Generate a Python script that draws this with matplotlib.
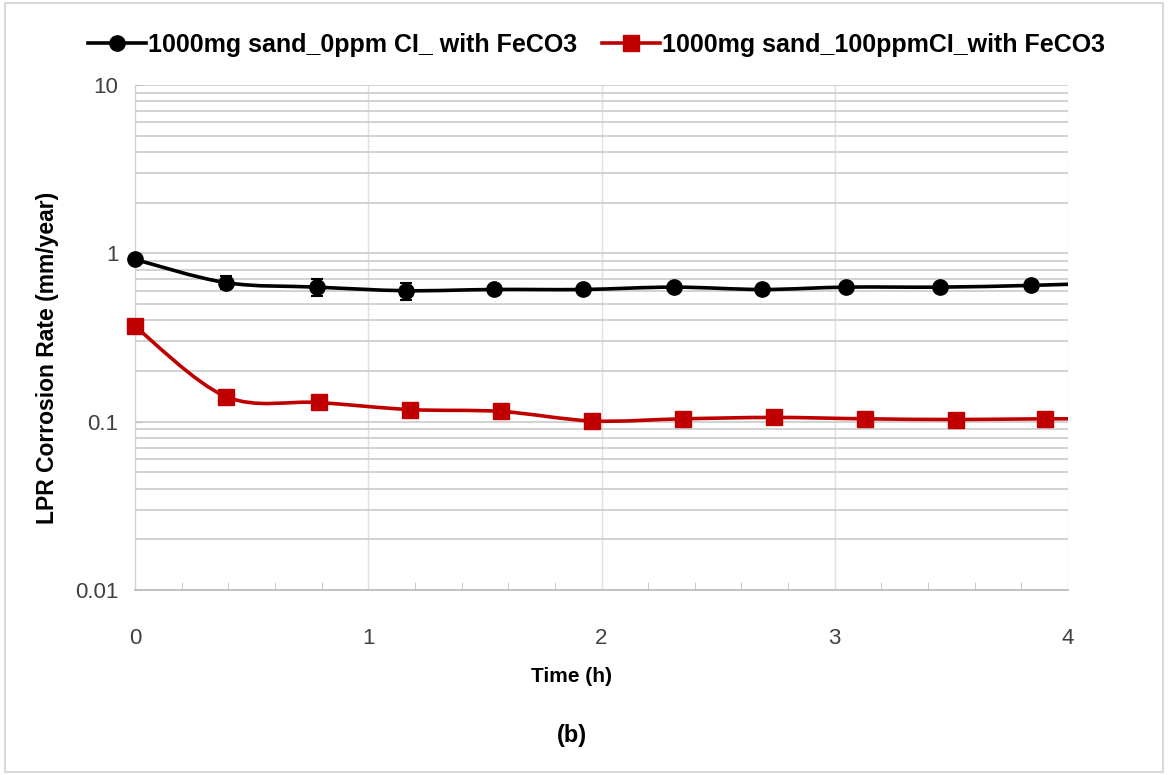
import matplotlib
matplotlib.use('Agg')
import matplotlib.pyplot as plt
import numpy as np
from matplotlib.path import Path
from matplotlib.patches import PathPatch, Rectangle
from matplotlib.lines import Line2D
from matplotlib.ticker import LogLocator, FixedLocator, FuncFormatter

# data
time_0ppm = [0, 0.39, 0.78, 1.16, 1.54, 1.92, 2.31, 2.69, 3.05, 3.45, 3.84, 4.22]
rate_0ppm = [0.92, 0.67, 0.63, 0.60, 0.61, 0.61, 0.63, 0.61, 0.63, 0.63, 0.645, 0.67]
err_0ppm = [0.05, 0.06, 0.07, 0.07, 0.04, 0.02, 0.03, 0.03, 0.02, 0.02, 0.02, 0.02]

time_100ppm = [0, 0.39, 0.79, 1.18, 1.57, 1.96, 2.35, 2.74, 3.13, 3.52, 3.90, 4.29]
rate_100ppm = [0.368, 0.141, 0.130, 0.118, 0.115, 0.101, 0.104, 0.106, 0.104, 0.103, 0.104, 0.104]

labels = ['1000mg sand_0ppm CI_ with FeCO3', '1000mg sand_100ppmCI_with FeCO3']
colors = ['black', '#C00000']

plt.rcParams['font.family'] = ['Liberation Sans', 'DejaVu Sans']


def smooth_path(x, y):
    # excel-like smoothed line: catmull-rom bezier in (x, log y)
    x = np.asarray(x, float)
    ly = np.log10(np.asarray(y, float))
    px = np.concatenate([[x[0]], x, [x[-1]]])
    py = np.concatenate([[ly[0]], ly, [ly[-1]]])
    verts = [(x[0], 10 ** ly[0])]
    codes = [Path.MOVETO]
    for i in range(1, len(px) - 2):
        c1 = (px[i] + (px[i + 1] - px[i - 1]) / 6, py[i] + (py[i + 1] - py[i - 1]) / 6)
        c2 = (px[i + 1] - (px[i + 2] - px[i]) / 6, py[i + 1] - (py[i + 2] - py[i]) / 6)
        for vx, vy in [c1, c2, (px[i + 1], py[i + 1])]:
            verts.append((vx, 10 ** vy))
            codes.append(Path.CURVE4)
    return Path(verts, codes)


fig = plt.figure(figsize=(11.68, 7.75), dpi=100)
ax = fig.add_axes([0.1156, 0.2387, 0.7988, 0.6516])

fig.patches.append(Rectangle((0.004, 0.004), 0.992, 0.992, transform=fig.transFigure,
                             fill=False, edgecolor='#d9d9d9', linewidth=1.5))

ax.set_yscale('log')
ax.set_xlim(0, 4)
ax.set_ylim(0.01, 10)

# smoothed lines
for t, r, c in [(time_0ppm, rate_0ppm, colors[0]), (time_100ppm, rate_100ppm, colors[1])]:
    ax.add_patch(PathPatch(smooth_path(t, r), facecolor='none', edgecolor=c, linewidth=2.6, zorder=3))

# markers (only inside the axis range)
t0 = np.array(time_0ppm)
m0 = t0 <= 4
ax.errorbar(t0[m0], np.array(rate_0ppm)[m0], yerr=np.array(err_0ppm)[m0], fmt='o', color=colors[0],
            markersize=11, elinewidth=1.5, capsize=4, capthick=1.5, clip_on=False, zorder=4)
t1 = np.array(time_100ppm)
m1 = t1 <= 4
ax.plot(t1[m1], np.array(rate_100ppm)[m1], 's', color=colors[1], markersize=12,
        clip_on=False, zorder=4)

# grid
ax.xaxis.set_major_locator(FixedLocator([0, 1, 2, 3, 4]))
ax.xaxis.set_minor_locator(FixedLocator(np.arange(0, 4.01, 0.2)))
ax.yaxis.set_major_locator(LogLocator(base=10, numticks=10))
ax.yaxis.set_minor_locator(LogLocator(base=10, subs=np.arange(2, 10), numticks=20))
ax.yaxis.set_major_formatter(FuncFormatter(lambda v, p: '%g' % v))
ax.grid(True, which='major', axis='x', color='#e0e0e0', linewidth=1.0)
ax.grid(True, which='both', axis='y', color='#cfcfcf', linewidth=1.3)
ax.set_axisbelow(True)

for s in ['top', 'right']:
    ax.spines[s].set_visible(False)
ax.spines['left'].set_color('#d0d0d0')
ax.spines['bottom'].set_color('#bfbfbf')
ax.spines['bottom'].set_linewidth(1.3)

ax.tick_params(axis='x', which='major', length=0, pad=27, labelsize=16, colors='#404040')
ax.tick_params(axis='x', which='minor', direction='in', length=6, color='#c0c0c0')
ax.tick_params(axis='y', which='major', direction='in', length=5, color='#c0c0c0', labelsize=16,
               labelcolor='#404040', pad=12)
ax.tick_params(axis='y', which='minor', length=0)

ax.set_xlabel('Time (h)', fontsize=15, fontweight='bold')
ax.xaxis.set_label_coords(0.468, -0.153)
ax.set_ylabel('LPR Corrosion Rate (mm/year)', fontsize=16.5, fontweight='bold')
ax.yaxis.set_label_coords(-0.081, 0.46)
fig.text(0.49, 0.051, '(b)', fontsize=17, fontweight='bold', ha='center', va='center')

handles = [Line2D([], [], color=colors[0], marker='o', markersize=11, linewidth=2.6),
           Line2D([], [], color=colors[1], marker='s', markersize=12, linewidth=2.6)]
fig.legend(handles, labels, loc='center', bbox_to_anchor=(0.511, 0.942), ncol=2, frameon=False,
           handlelength=2.3, handletextpad=0.1, columnspacing=1.0,
           prop={'weight': 'bold', 'size': 18})

plt.savefig('out.png', dpi=100)
